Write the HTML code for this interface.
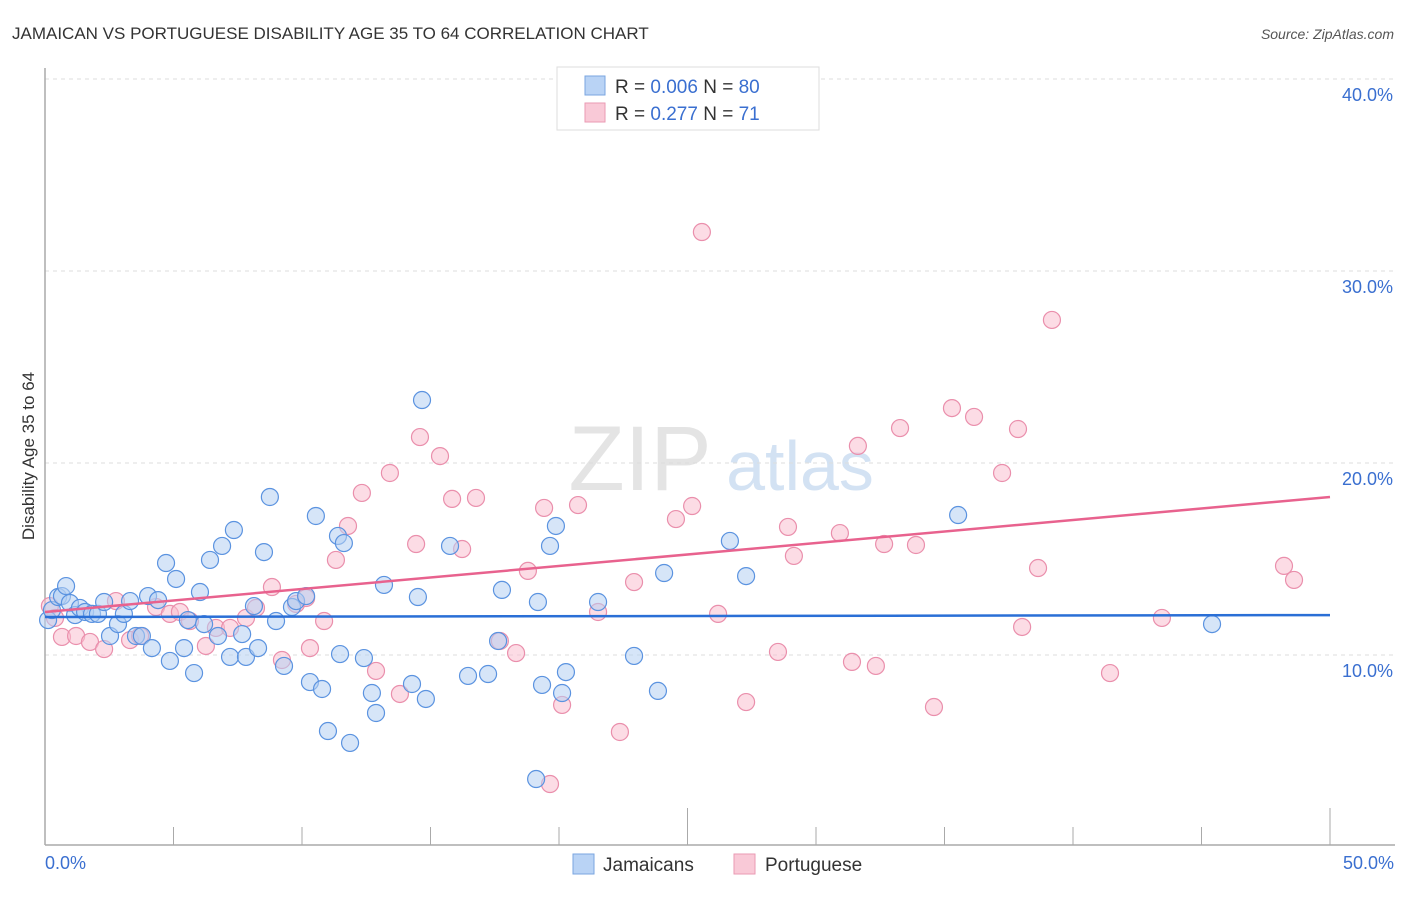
<!DOCTYPE html>
<html><head><meta charset="utf-8"><style>
body{margin:0;background:#fff;font-family:"Liberation Sans",sans-serif}
svg text{font-family:"Liberation Sans",sans-serif}
</style></head><body>
<svg width="1406" height="892" xmlns="http://www.w3.org/2000/svg">
<text x="12" y="39" font-size="17" fill="#333">JAMAICAN VS PORTUGUESE DISABILITY AGE 35 TO 64 CORRELATION CHART</text>
<text x="1394" y="39" font-size="14" fill="#555" font-style="italic" text-anchor="end">Source: ZipAtlas.com</text>
<text x="640" y="490" font-size="92" fill="#e4e4e4" font-family="Liberation Serif" text-anchor="middle">ZIP</text>
<text x="800" y="490" font-size="70" fill="#d3e2f3" text-anchor="middle">atlas</text>
<g id="grid"></g>
<g id="axes"></g>
<g id="pts"></g>
<g id="trend"></g>
<text transform="translate(34,456) rotate(-90)" font-size="17" fill="#333" text-anchor="middle">Disability Age 35 to 64</text>
<text x="45" y="869" font-size="18" fill="#3a6fd0">0.0%</text>
<text x="1394" y="869" font-size="18" fill="#3a6fd0" text-anchor="end">50.0%</text>
<g>
<rect x="557" y="67" width="262" height="63" fill="#fff" stroke="#ddd"/>
<rect x="585" y="76" width="20" height="19" fill="#b9d3f5" stroke="#7aa6e0"/>
<rect x="585" y="103" width="20" height="19" fill="#f9c9d7" stroke="#ea9ab3"/>
<text x="615" y="93" font-size="19" fill="#333">R = <tspan fill="#3a6fd0">0.006</tspan>   N = <tspan fill="#3a6fd0">80</tspan></text>
<text x="615" y="120" font-size="19" fill="#333">R =  <tspan fill="#3a6fd0">0.277</tspan>   N =  <tspan fill="#3a6fd0">71</tspan></text>
</g>
<g>
<rect x="573" y="854" width="21" height="20" fill="#b9d3f5" stroke="#7aa6e0"/>
<text x="603" y="871" font-size="19" fill="#333">Jamaicans</text>
<rect x="734" y="854" width="21" height="20" fill="#f9c9d7" stroke="#ea9ab3"/>
<text x="765" y="871" font-size="19" fill="#333">Portuguese</text>
</g>
</svg>
<script>
const yTicks=[10,20,30,40];
const yTickLabels=["10.0%","20.0%","30.0%","40.0%"];
const xTicks=[0,5,10,15,20,25,30,35,40,45,50];
const bluePx=[[48,620],[52,610],[58,597],[62,596],[66,586],[70,603],[75,615],[80,608],[85,612],[92,614],[98,614],[104,602],[110,636],[118,624],[124,614],[130,601],[136,636],[142,636],[148,596],[152,648],[158,600],[166,563],[170,661],[176,579],[184,648],[188,620],[194,673],[200,592],[204,624],[210,560],[218,636],[222,546],[230,657],[234,530],[242,634],[246,657],[254,606],[258,648],[264,552],[270,497],[276,621],[284,666],[292,607],[296,601],[306,596],[310,682],[316,516],[322,689],[328,731],[338,536],[340,654],[344,543],[350,743],[364,658],[372,693],[376,713],[384,585],[412,684],[418,597],[422,400],[426,699],[450,546],[468,676],[488,674],[498,641],[502,590],[536,779],[538,602],[542,685],[550,546],[556,526],[562,693],[566,672],[598,602],[634,656],[658,691],[664,573],[730,541],[746,576],[958,515],[1212,624]];
const pinkPx=[[50,606],[55,618],[62,637],[76,636],[90,642],[104,649],[116,601],[130,640],[140,636],[156,607],[170,614],[180,612],[190,621],[206,646],[216,628],[230,628],[246,618],[256,608],[272,587],[282,660],[296,604],[306,598],[310,648],[324,621],[336,560],[348,526],[362,493],[376,671],[390,473],[400,694],[416,544],[420,437],[440,456],[452,499],[462,549],[476,498],[500,641],[516,653],[528,571],[544,508],[562,705],[578,505],[598,612],[620,732],[634,582],[676,519],[692,506],[702,232],[718,614],[746,702],[778,652],[788,527],[794,556],[840,533],[852,662],[858,446],[876,666],[884,544],[900,428],[916,545],[934,707],[952,408],[974,417],[1002,473],[1018,429],[1022,627],[1038,568],[1052,320],[1110,673],[1162,618],[1284,566],[1294,580],[550,784]];
// data values (percent)
const jamX=bluePx.map(p=>+((p[0]-45)/25.7).toFixed(2));
const jamY=bluePx.map(p=>+((847-p[1])/19.2).toFixed(2));
const porX=pinkPx.map(p=>+((p[0]-45)/25.7).toFixed(2));
const porY=pinkPx.map(p=>+((847-p[1])/19.2).toFixed(2));
const jamTrend=[11.98,12.08];
const porTrend=[12.24,18.23];
const NS="http://www.w3.org/2000/svg";
const X=v=>45+v*25.7, Y=v=>847-v*19.2;
function mk(t,a,p){const e=document.createElementNS(NS,t);for(const k in a)e.setAttribute(k,a[k]);document.getElementById(p).appendChild(e);return e;}
yTicks.forEach((t,i)=>{
 const l=mk('line',{x1:45,x2:1395,y1:Y(t),y2:Y(t),stroke:'#ddd','stroke-dasharray':'4,4'},'grid');
 
 
 const tx=mk('text',{x:1393,y:Y(t)+22,'font-size':18,fill:'#3a6fd0','text-anchor':'end'},'grid');
 tx.textContent=yTickLabels[i];
 
 
});
const ax=mk('line',{x1:45,x2:1395,y1:845,y2:845,stroke:'#aaa','stroke-width':1.5},'axes');


const ay=mk('line',{x1:45,x2:45,y1:68,y2:845,stroke:'#aaa','stroke-width':1.5},'axes');


xTicks.forEach((t,i)=>{
 const major=(i===0||i===5||i===10);
 const l=mk('line',{x1:X(t),x2:X(t),y1:major?808:827,y2:845,stroke:'#aaa'},'axes');
 
 
});
function pts(xs,ys,fill,stroke,name){
 xs.forEach((x,i)=>{
  const c=mk('circle',{cx:X(x),cy:Y(ys[i]),r:8.5,fill:fill,'fill-opacity':0.55,stroke:stroke,'stroke-width':1.2},'pts');
  
  
 });
}
pts(porX,porY,'#f9c0d0','#ea8fac','portuguese-point');
pts(jamX,jamY,'#b5d0f3','#5b93e0','jamaican-point');
const t1=mk('line',{x1:X(0),x2:X(50),y1:Y(jamTrend[0]),y2:Y(jamTrend[1]),stroke:'#2a6fd6','stroke-width':2.5},'trend');


const t2=mk('line',{x1:X(0),x2:X(50),y1:Y(porTrend[0]),y2:Y(porTrend[1]),stroke:'#e8628e','stroke-width':2.5},'trend');


</script>
</body></html>
